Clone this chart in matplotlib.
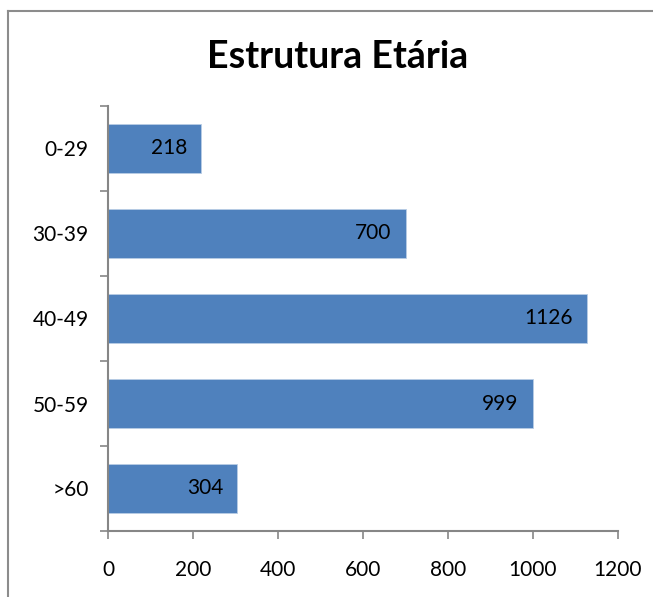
import matplotlib
matplotlib.use("Agg")

import matplotlib.pyplot as plt
from matplotlib.lines import Line2D

# ── Data ────────────────────────────────────────────────────────────
categories = ["0-29", "30-39", "40-49", "50-59", ">60"]
values = [218, 700, 1126, 999, 304]
x_ticks = [0, 200, 400, 600, 800, 1000, 1200]

BAR_COLOR = "#4F81BD"
AXIS_COLOR = "#868686"
W, H = 653, 597
FS = 15

plt.rcParams["font.family"] = ["Lato", "DejaVu Sans"]

fig = plt.figure(figsize=(W / 100, H / 100), dpi=100)
fig.patch.set_edgecolor("white")
fig.patch.set_linewidth(0)

# outer chart border: only top and left edges are inside the picture
top = 1 - 11 / H
left = 8 / W
fig.lines.append(Line2D([left, 1.05], [top, top], transform=fig.transFigure,
                        color="#8c8c8c", linewidth=1.5))
fig.lines.append(Line2D([left, left], [-0.05, top], transform=fig.transFigure,
                        color="#8c8c8c", linewidth=1.5))

ax = fig.add_axes([108 / W, 66 / H, (618 - 108) / W, (531 - 106) / H])

pos = list(range(len(categories)))
ax.barh(pos, values, height=0.58, color=BAR_COLOR,
        edgecolor="#B9CDE5", linewidth=0.6)

ax.set_xlim(0, 1200)
ax.set_ylim(len(categories) - 0.5, -0.5)

ax.set_xticks(x_ticks)
ax.set_xticklabels([str(t) for t in x_ticks], fontsize=FS)
ax.set_yticks(pos)
ax.set_yticklabels(categories, fontsize=FS)

# category ticks sit between the bars
ax.set_yticks([p - 0.5 for p in pos] + [len(pos) - 0.5], minor=True)
ax.tick_params(axis="y", which="major", length=0, pad=14)
ax.tick_params(axis="y", which="minor", length=6, width=1.2, color=AXIS_COLOR)
ax.tick_params(axis="x", length=6, width=1.2, color=AXIS_COLOR, pad=15)

for side in ("top", "right"):
    ax.spines[side].set_visible(False)
for side in ("left", "bottom"):
    ax.spines[side].set_color(AXIS_COLOR)
    ax.spines[side].set_linewidth(1.5)

for p, v in zip(pos, values):
    ax.annotate(str(v), (v, p), xytext=(-10, 0), textcoords="offset points",
                ha="right", va="center", fontsize=FS)

fig.text(338 / W, 1 - 57 / H, "Estrutura Etária", ha="center", va="center",
         fontsize=27, fontweight="bold")

fig.savefig("out.png", dpi=100)
